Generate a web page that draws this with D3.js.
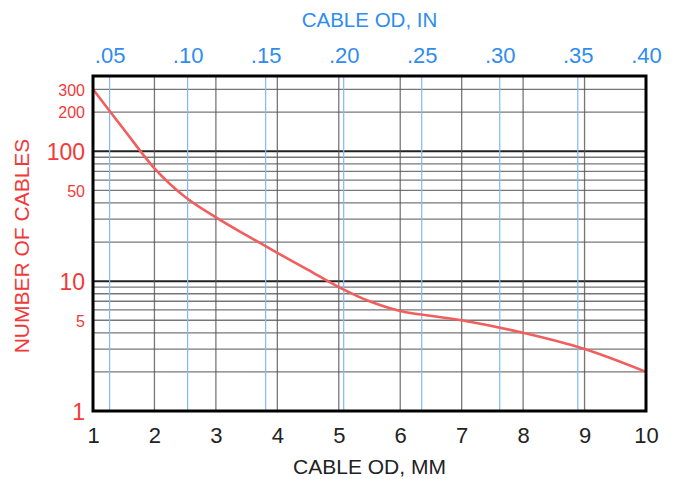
<!DOCTYPE html>
<html>
<head>
<meta charset="utf-8">
<script src="https://cdn.jsdelivr.net/npm/d3@7"></script>
<style>
	body { margin: 0; background: #fff; }
	text { font-family: "Liberation Sans", Arial, sans-serif; }
</style>
</head>
<body>
<div class="vis"></div>
<script>

//**********//
//   DATA   //
//**********//

// cable outside diameter in mm, and how many cables fit
var diameterMM = [1, 1.5, 2, 2.5, 3, 3.5, 4, 4.5, 5, 5.5, 6, 7, 8, 9, 10];
var cableCount = [300, 148, 74, 44.5, 31, 22.5, 16.5, 12.2, 9.0, 7.0, 5.9, 5.0, 4.0, 3.0, 2.0];

// tick labels
var mmTicks = [1, 2, 3, 4, 5, 6, 7, 8, 9, 10];
var inchTicks = [0.05, 0.10, 0.15, 0.20, 0.25, 0.30, 0.35, 0.40];
var countMajor = [1, 10, 100];
var countMinor = [5, 50, 200, 300];
var countGrid = [2, 3, 4, 5, 6, 7, 8, 9, 20, 30, 40, 50, 60, 70, 80, 90, 200, 300];
var countDomain = [1, 380];


//*******************//
//  SVG VARIABLES    //
//*******************//

var width = 678, height = 479;
var pad = { "top": 76, "bottom": 68, "left": 93, "right": 32 };
var w = width - pad.left - pad.right;
var h = height - pad.top - pad.bottom;

var red = "#f03a3a";
var blue = "#2f8cf0";

var svg = d3.select(".vis").append("svg")
	.attr("width", width)
	.attr("height", height);

var g = svg.append("g")
	.attr("transform", "translate(" + pad.left + "," + pad.top + ")");

var x = d3.scaleLinear().domain([1, 10]).range([0, w]);
// inch scale, clamped so .40 sits on the right edge
var xIn = d3.scaleLinear().domain([1 / 25.4, 10 / 25.4]).range([0, w]).clamp(true);
var y = d3.scaleLog().domain(countDomain).range([h, 0]);


//************//
//  GRID      //
//************//

g.selectAll(".hgrid")
	.data(countGrid)
	.enter().append("line")
	.attr("class", "hgrid")
	.attr("x1", 0).attr("x2", w)
	.attr("y1", function(d) { return y(d); })
	.attr("y2", function(d) { return y(d); })
	.attr("stroke", "#555")
	.attr("stroke-opacity", 0.8)
	.attr("stroke-width", 1.3);

// decade lines are heavier
g.selectAll(".dgrid")
	.data([10, 100])
	.enter().append("line")
	.attr("class", "dgrid")
	.attr("x1", 0).attr("x2", w)
	.attr("y1", function(d) { return y(d); })
	.attr("y2", function(d) { return y(d); })
	.attr("stroke", "#222")
	.attr("stroke-width", 2);

g.selectAll(".vgrid")
	.data(mmTicks.slice(1, -1))
	.enter().append("line")
	.attr("class", "vgrid")
	.attr("y1", 0).attr("y2", h)
	.attr("x1", function(d) { return x(d); })
	.attr("x2", function(d) { return x(d); })
	.attr("stroke", "#555")
	.attr("stroke-opacity", 0.8)
	.attr("stroke-width", 1.3);

// inch lines (only those inside the plot)
g.selectAll(".igrid")
	.data(inchTicks.filter(function(d) { return d * 25.4 < 10; }))
	.enter().append("line")
	.attr("class", "igrid")
	.attr("y1", 0).attr("y2", h)
	.attr("x1", function(d) { return x(d * 25.4); })
	.attr("x2", function(d) { return x(d * 25.4); })
	.attr("stroke", "#7fb9f7")
	.attr("stroke-width", 1.2);


//************//
//  CURVE     //
//************//

var line = d3.line()
	.x(function(d, i) { return x(diameterMM[i]); })
	.y(function(d) { return y(d); })
	.curve(d3.curveCatmullRom.alpha(0.5));

g.append("path")
	.datum(cableCount)
	.attr("d", line)
	.attr("fill", "none")
	.attr("stroke", "#f25e5e")
	.attr("stroke-width", 2.6);

// plot frame
g.append("rect")
	.attr("width", w).attr("height", h)
	.attr("fill", "none")
	.attr("stroke", "#000")
	.attr("stroke-width", 3);


//************//
//  AXES      //
//************//

var bottomAxis = g.append("g")
	.attr("transform", "translate(0," + h + ")")
	.call(d3.axisBottom(x).tickValues(mmTicks).tickSize(0).tickFormat(d3.format("d")));
bottomAxis.select(".domain").remove();
bottomAxis.selectAll("text")
	.attr("y", 32).attr("dy", null)
	.attr("fill", "#222")
	.style("font-size", "22px");

var topAxis = g.append("g")
	.call(d3.axisTop(xIn).tickValues(inchTicks).tickSize(0)
		.tickFormat(function(d) { return d3.format(".2f")(d).replace(/^0/, ""); }));
topAxis.select(".domain").remove();
topAxis.selectAll("text")
	.attr("y", -13).attr("dy", null)
	.attr("fill", blue)
	.style("font-size", "22px");

var leftAxis = g.append("g")
	.call(d3.axisLeft(y).tickValues(countMajor.concat(countMinor)).tickSize(0)
		.tickFormat(d3.format("d")));
leftAxis.select(".domain").remove();
leftAxis.selectAll("text")
	.attr("x", -8).attr("dy", "0.36em")
	.attr("fill", red)
	.style("font-size", function(d) { return countMajor.indexOf(d) >= 0 ? "23px" : "16px"; });


//************//
//  TITLES    //
//************//

svg.append("text")
	.attr("x", pad.left + w / 2).attr("y", 27)
	.attr("text-anchor", "middle")
	.attr("fill", blue)
	.style("font-size", "20.5px")
	.text("CABLE OD, IN");

svg.append("text")
	.attr("x", pad.left + w / 2).attr("y", 474)
	.attr("text-anchor", "middle")
	.attr("fill", "#222")
	.style("font-size", "21px")
	.text("CABLE OD, MM");

svg.append("text")
	.attr("transform", "translate(29,246) rotate(-90)")
	.attr("text-anchor", "middle")
	.attr("fill", red)
	.style("font-size", "21px")
	.text("NUMBER OF CABLES");

</script>
</body>
</html>
